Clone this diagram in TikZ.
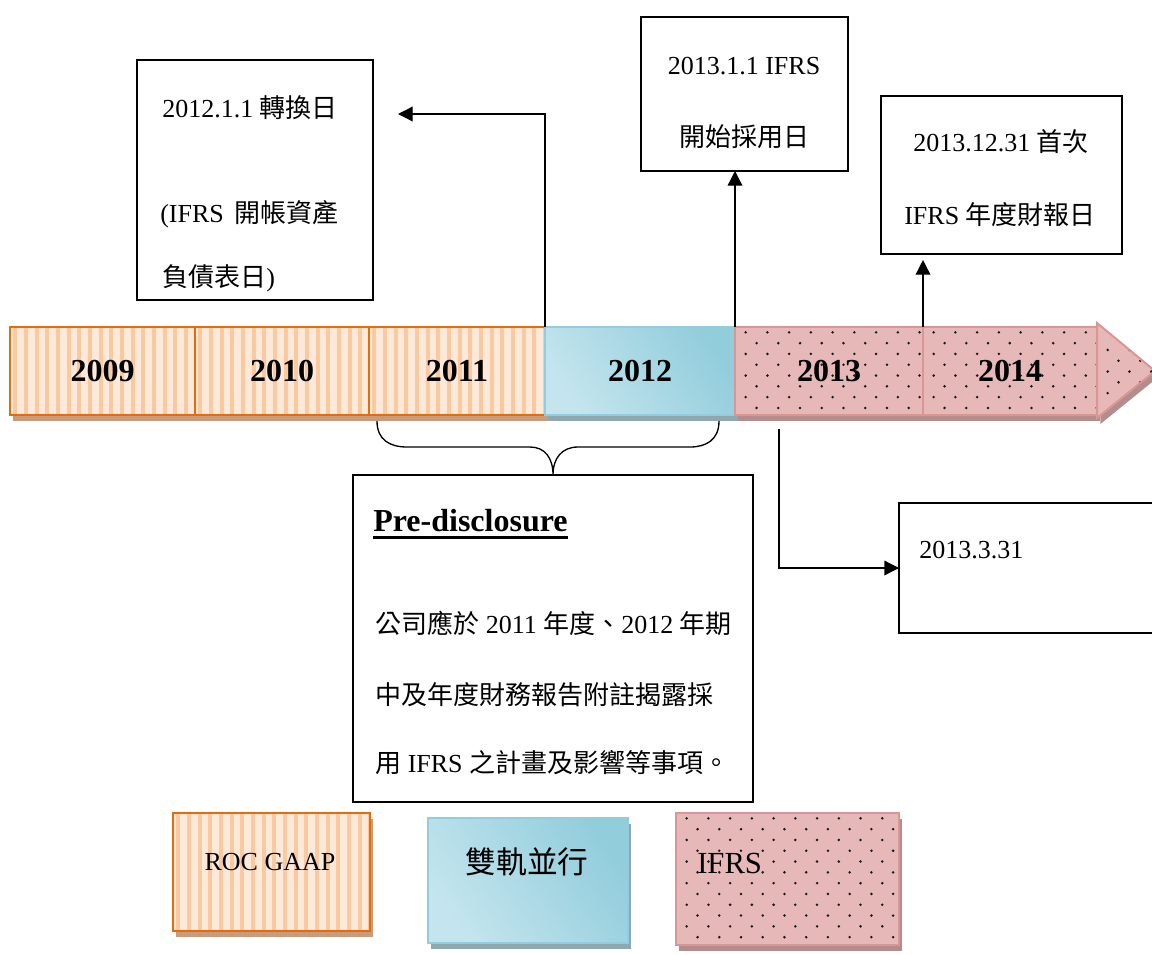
\documentclass[tikz,border=0pt]{standalone}
\usepackage{fontspec}
\setmainfont{Liberation Serif}
\newfontfamily\cjk{Noto Sans CJK TC}
\usetikzlibrary{arrows.meta,shadows,calc}

\definecolor{orbd}{HTML}{E46C0A}
\definecolor{orbg}{HTML}{FDE9D9}
\definecolor{orst}{HTML}{FBC9A0}
\definecolor{orsh}{HTML}{C89B7B}
\definecolor{blbd}{HTML}{93CDDD}
\definecolor{bldk}{HTML}{92CDDC}
\definecolor{blmd}{HTML}{C4E5EE}
\definecolor{bllt}{HTML}{DDEFF4}
\definecolor{blsh}{HTML}{8FA8AF}
\definecolor{pkbg}{HTML}{E6B9B8}
\definecolor{pkbd}{HTML}{D99694}
\definecolor{pksh}{HTML}{B48C8C}

\tikzset{
  stripes/.style={path picture={
    \foreach \i in {0,...,26}
      \fill[orst] ([xshift={\i*8pt+2.5pt}]path picture bounding box.south west) rectangle ++(3pt,120pt);}},
  dots/.style={path picture={
    \foreach \j in {0,...,13}
      \foreach \i in {0,...,11}
        \fill[black!90] ([xshift={\i*16.3pt+mod(\j,2)*8.15pt+8pt},yshift={-\j*8.1pt-4pt}]path picture bounding box.north west) circle (1.05pt);}},
  orfill/.style={draw=orbd, line width=1.5pt, fill=orbg, stripes,
    drop shadow={shadow xshift=2.5pt, shadow yshift=-4.5pt, fill=orsh, opacity=1}},
  blfill/.style={draw=blbd, line width=1.5pt, top color=bldk, middle color=bllt, bottom color=blmd, shading angle=-55,
    drop shadow={shadow xshift=2.5pt, shadow yshift=-4.5pt, fill=blsh, opacity=1}},
  pkfill/.style={draw=pkbd, line width=1.5pt, fill=pkbg, dots,
    drop shadow={shadow xshift=2.5pt, shadow yshift=-4.5pt, fill=pksh, opacity=1}},
  seg/.style={inner sep=0pt, outer sep=0pt, minimum height=66pt, anchor=west,
    font=\fontsize{24}{28}\selectfont\bfseries},
  box/.style={draw=black, line width=1.1pt, fill=white, inner sep=0pt, outer sep=0pt},
  txt/.style={inner sep=0pt, font=\fontsize{19.5}{24}\selectfont},
  bigtxt/.style={inner sep=0pt, font=\fontsize{23}{28}\selectfont},
  arr/.style={-{Triangle[length=11pt,width=11pt]}, line width=1pt},
  brace/.style={line width=1pt}
}

\begin{document}
\begin{tikzpicture}[x=0.75pt,y=-0.75pt]
\useasboundingbox (0,0) rectangle (1152,954);

% ---------------- timeline ----------------
\node[seg, orfill, minimum width=138.75pt] (y2009) at (10,371) {2009};
\node[seg, orfill, minimum width=130.5pt] (y2010) at (y2009.east) {2010};
\node[seg, orfill, minimum width=132pt] (y2011) at (y2010.east) {2011};
\node[seg, blfill, minimum width=142.5pt] (y2012) at (y2011.east) {2012};
\node[seg, pkfill, minimum width=141pt] (y2013) at (y2012.east) {2013};
\node[seg, pkfill, minimum width=130.5pt] (y2014) at (y2013.east) {2014};
\coordinate (h1) at ($(y2014.north east)+(0,-4)$);
\coordinate (h2) at ($(y2014.east)+(58,0)$);
\coordinate (h3) at ($(y2014.south east)+(0,3)$);
\path[pkfill] (h1) -- (h2) -- (h3) -- cycle;

% ---------------- boxes ----------------
\node[box, minimum width=177pt, minimum height=180pt] (boxA) at (255,180) {};
\node[txt, anchor=west] (tA1) at (162,108) {2012.1.1 {\cjk 轉換日}};
\node[txt, anchor=west] (tA2) at (160,214) {(IFRS\, {\cjk 開帳資產}};
\node[txt, anchor=west] (tA3) at (162,278) {{\cjk 負債表日})};

\node[box, minimum width=155.25pt, minimum height=115.5pt] (boxB) at (744.5,94) {};
\node[txt] (tB1) at (744,66) {2013.1.1 IFRS};
\node[txt] (tB2) at (744,137) {\cjk 開始採用日};

\node[box, minimum width=180.75pt, minimum height=118.5pt] (boxC) at (1001.5,175) {};
\node[txt] (tC1) at (1001,142) {2013.12.31 {\cjk 首次}};
\node[txt] (tC2) at (1000,215) {IFRS {\cjk 年度財報日}};

\node[box, minimum width=195.75pt, minimum height=97.5pt] (boxD) at (1029.5,568) {};
\node[txt, anchor=west] (tD1) at (919,550) {2013.3.31};

\node[box, minimum width=300pt, minimum height=245.25pt] (boxE) at (553,638.5) {};
\node[inner sep=0pt, anchor=west, font=\fontsize{24}{28}\selectfont\bfseries] (pre) at (373,521) {Pre-disclosure};
\draw[line width=2.2pt] ($(pre.base west)+(0,6)$) -- ($(pre.base east)+(0,6)$);
\node[txt, anchor=west] (tE1) at (375,623) {{\cjk 公司應於} 2011 {\cjk 年度、}2012 {\cjk 年期}};
\node[txt, anchor=west] (tE2) at (375,695) {\cjk 中及年度財務報告附註揭露採};
\node[txt, anchor=west] (tE3) at (375,763) {{\cjk 用} IFRS {\cjk 之計畫及影響等事項。}};

% ---------------- connectors ----------------
\coordinate (a1end) at (398,114);
\draw[arr] (y2012.north west) |- (a1end);
\draw[arr] (y2013.north west) -- (y2013.north west |- boxB.south);
\coordinate (a3end) at (923,260);
\draw[arr] (y2014.north west) -- (a3end);
\coordinate (a4s) at (779,429);
\draw[arr] (a4s) |- (boxD.west);

\coordinate (bl) at (377,421);
\coordinate (br) at (719,421);
\draw[brace] (bl) .. controls (377,440) and (390,447) .. (407,447) -- (530,447)
  .. controls (545,447) and (553,458) .. (boxE.north)
  .. controls (553,458) and (562,447) .. (578,447) -- (690,447)
  .. controls (706,447) and (719,440) .. (br);

% ---------------- legend ----------------
\node[orfill, inner sep=0pt, minimum width=147.75pt, minimum height=88.5pt] (leg1) at (271.5,872) {};
\node[txt] (l1t) at (270,862) {ROC GAAP};
\node[blfill, inner sep=0pt, minimum width=150pt, minimum height=93.75pt] (leg2) at (528,880.5) {};
\node[bigtxt] (l2t) at (527,862) {\cjk 雙軌並行};
\node[pkfill, inner sep=0pt, minimum width=167.25pt, minimum height=99pt] (leg3) at (787.5,879) {};
\node[bigtxt, anchor=west] (l3t) at (697,863) {IFRS};
\end{tikzpicture}
\end{document}
